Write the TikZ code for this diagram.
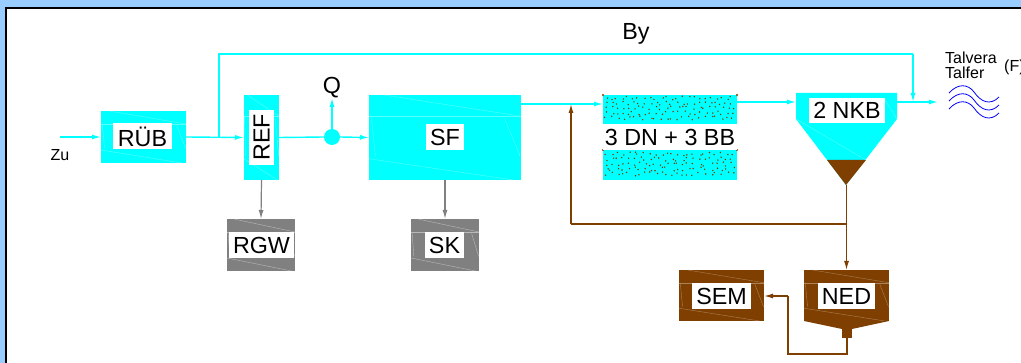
\documentclass[tikz,border=0pt]{standalone}
\usepackage{fontspec}
\setmainfont{Liberation Sans}
\usetikzlibrary{arrows.meta,calc}
\definecolor{wasser}{HTML}{00FFFF}
\definecolor{schlamm}{HTML}{7F3F00}
\definecolor{reste}{HTML}{808080}
\definecolor{rand}{HTML}{99CCFF}
\tikzset{
	hatched/.style={path picture={
		\coordinate (nw) at (path picture bounding box.north west);
		\coordinate (ne) at (path picture bounding box.north east);
		\coordinate (sw) at (path picture bounding box.south west);
		\coordinate (se) at (path picture bounding box.south east);
		\draw[#1,line width=.4pt] ($(nw)!.1!(ne)$) to ($(ne)!.25!(se)$);
		\draw[#1,line width=.4pt] ($(nw)!.25!(sw)$) to ($(ne)!.25!(se)$);
		\draw[#1,line width=.4pt] ($(nw)!.25!(sw)$) to ($(sw)!.75!(nw)$);
		\draw[#1,line width=.4pt] ($(nw)!.75!(sw)$) to ($(se)!.05!(sw)$);
		\draw[#1,line width=.4pt] ($(nw)!.02!(ne)!.25!(sw)$) to ($(nw)!.15!(ne)!.72!(sw)$);
		\draw[#1,line width=.4pt] ($(ne)!.15!(nw)!.28!(se)$) to ($(ne)!.02!(nw)!.72!(se)$);
	}},
	block/.style={inner sep=0pt,outer sep=0pt,minimum width=#1},
	wasserbox/.style={block=#1,fill=wasser,hatched=wasser!65!white},
	schlammbox/.style={block=#1,fill=schlamm,hatched=schlamm!65!white},
	restebox/.style={block=#1,fill=reste,hatched=reste!55!white},
	schild/.style={inner sep=0pt,outer sep=0pt,fill=white,minimum height=26pt,font=\fontsize{23.3}{23}\selectfont},
	wasserline/.style={draw=wasser,line width=1.4pt},
	schlammline/.style={draw=schlamm,line width=1.2pt},
	resteline/.style={draw=reste,line width=1.2pt},
	tip/.style={-{Latex[length=9pt,width=5pt]}},
	klein/.style={inner sep=0pt,font=\fontsize{16}{15}\selectfont,align=left},
	gross/.style={inner sep=0pt,font=\fontsize{23.3}{23}\selectfont}
}
\begin{document}
\begin{tikzpicture}[x=1pt,y=-1pt]
	\useasboundingbox (0,0) rectangle (1021,363);
	\clip (0,0) rectangle (1021,363);
	\fill[rand] (0,0) rectangle (1021,363);
	\draw[fill=white,line width=2pt] (6,8) rectangle (1040,380);
	% free ends and branch points
	\coordinate (zu) at (60,137);
	\coordinate (by1) at (219,137);
	\coordinate (by2) at (219,54);
	\coordinate (by3) at (913,54);
	\coordinate (by4) at (913,102);
	\coordinate (aus) at (938,102);
	\coordinate (qtip) at (332,98);
	\coordinate (nkba) at (796,93);
	\coordinate (nkbb) at (897,93);
	\coordinate (nkbc) at (897,119);
	\coordinate (nkbd) at (846,185);
	\coordinate (nkbe) at (796,119);
	\coordinate (nkbf) at (827,160);
	\coordinate (nkbg) at (866,160);
	\coordinate (nkbin) at (796,102);
	\coordinate (nkbout) at (897,102);
	\coordinate (ruck1) at (847,224);
	\coordinate (ruck2) at (571,224);
	\coordinate (ruck3) at (571,104);
	\coordinate (neda) at (804,321);
	\coordinate (nedb) at (889,321);
	\coordinate (nedc) at (852,329);
	\coordinate (nedd) at (842,329);
	\coordinate (nedout) at (847,338);
	\coordinate (sem1) at (847,354);
	\coordinate (sem2) at (788,354);
	\coordinate (sem3) at (788,296);
	\coordinate (sf1) at (521,104);
	\coordinate (dn1) at (603,104);
	\coordinate (dn2) at (737,102);
	% blocks
	\node[wasserbox=85pt,minimum height=52pt] (rub) at (143.5,137) {};
	\node[wasserbox=35pt,minimum height=85pt] (ref) at (261.5,137.5) {};
	\node[wasserbox=152pt,minimum height=85pt] (sf) at (445,137.5) {};
	\node[restebox=68pt,minimum height=52pt] (rgw) at (261,245) {};
	\node[restebox=68pt,minimum height=52pt] (sk) at (445,245) {};
	\node[schlammbox=85pt,minimum height=51pt] (sem) at (721.5,295.5) {};
	\node[schlammbox=85pt,minimum height=51pt] (ned) at (846.5,295.5) {};
	\node[block=134pt,minimum height=85pt,fill=wasser] (dn) at (670,137.5) {};
	\node[circle,fill=wasser,inner sep=0pt,minimum size=16pt] (qp) at (332,137) {};
	% tanks
	\fill[wasser] (nkba) to (nkbb) to (nkbc) to (nkbd) to (nkbe) to cycle;
	\fill[schlamm] (nkbf) to (nkbg) to (nkbd) to cycle;
	\draw[wasser!65!white,line width=.4pt] (nkbe) to (866,160);
	\draw[wasser!65!white,line width=.4pt] (nkbc) to (885,100);
	\fill[schlamm] (neda) to (nedb) to (nedc) to (nedd) to cycle;
	\fill[schlamm] (842,329) rectangle (852,338);
	% sand in the filter
	\pgfmathsetseed{11}
	\foreach \x in {606,611.5,...,735}{
		\foreach \y in {98,103,...,121}{
			\pgfmathsetmacro{\dx}{rand*2.4}
			\pgfmathsetmacro{\dy}{rand*2}
			\fill[schlamm] ({\x+\dx},{\y+\dy}) circle (.8pt);
		}
		\foreach \y in {154,159,...,177}{
			\pgfmathsetmacro{\dx}{rand*2.4}
			\pgfmathsetmacro{\dy}{rand*2}
			\fill[schlamm] ({\x+\dx},{\y+\dy}) circle (.8pt);
		}
	}
	\fill[white] (603,124) rectangle (737,150);
	\foreach \x in {603,737}{
		\fill[schlamm] (\x,95) circle (1.2pt);
		\fill[schlamm] (\x,150) circle (1.2pt);
	}
	% labels
	\node[schild,minimum width=59pt] (rubt) at (142.5,136.5) {RÜB};
	\node[schild,minimum width=55pt,minimum height=25pt,rotate=90] (reft) at (261.5,137.5) {REF};
	\node[schild,minimum width=38pt] (sft) at (445,137.5) {SF};
	\node[schild,minimum width=65pt] (rgwt) at (261.5,245.5) {RGW};
	\node[schild,minimum width=39pt] (skt) at (444.5,245.5) {SK};
	\node[schild,minimum width=134pt] (dnt) at (670,137) {3 DN + 3 BB};
	\node[schild,minimum width=76pt,minimum height=25pt] (nkbt) at (847,110.5) {2 NKB};
	\node[schild,minimum width=59pt] (semt) at (721.5,296) {SEM};
	\node[schild,minimum width=57pt] (nedt) at (846.5,296) {NED};
	\node[klein] (zut) at (60,155) {Zu};
	\node[gross] (q) at (332,88) {Q};
	\node[gross] (byt) at (636,34) {By};
	\node[klein,anchor=west] (talt) at (945,65.5) {Talvera\\Talfer};
	\node[klein,anchor=west] (ft) at (1004,67) {(F)};
	% river
	\foreach \d in {0,8,16}{
		\draw[blue,line width=.8pt,yshift=-\d pt] (949,93) .. controls (958,83) and (968,84) .. (974,92) .. controls (981,102) and (990,106) .. (999,97);
	}
	% water
	\draw[wasserline,tip] (zu) to (rub.west);
	\draw[wasserline,tip] (rub.east) to (ref.west);
	\draw[wasserline] (by1) to (by2) to (by3);
	\draw[wasserline,tip] (by3) to (by4);
	\draw[wasserline] (ref.east) to (qp.west);
	\draw[wasserline,tip] (qp.north) to (qtip);
	\draw[wasserline,tip] (qp.east) to (sf.west);
	\draw[wasserline,tip] (sf1) to (dn1);
	\draw[wasserline,tip] (dn2) to (nkbin);
	\draw[wasserline,tip] (nkbout) to (aus);
	% residues
	\draw[resteline,tip] (ref.south) to (rgw.north);
	\draw[resteline,tip] (sf.south) to (sk.north);
	% sludge
	\draw[schlammline,tip] (nkbd -| ned.north) to (ned.north);
	\draw[schlammline] (ruck1) to (ruck2);
	\draw[schlammline,tip] (ruck2) to (ruck3);
	\draw[schlammline] (nedout) to (sem1) to (sem2) to (sem3);
	\draw[schlammline,tip] (sem3) to (sem3 -| sem.east);
\end{tikzpicture}
\end{document}
